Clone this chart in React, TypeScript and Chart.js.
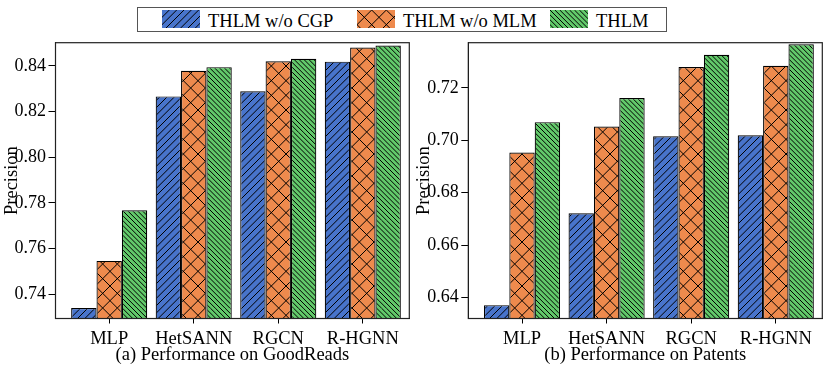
import React, { useEffect, useRef } from 'react';
import { Chart, registerables } from 'chart.js';

Chart.register(...registerables);

// ---------- data ----------
const categories = ['MLP', 'HetSANN', 'RGCN', 'R-HGNN'];
const seriesNames = ['THLM w/o CGP', 'THLM w/o MLM', 'THLM'];

const goodreadsNoCGP = [0.734, 0.8266, 0.8288, 0.8418];
const goodreadsNoMLM = [0.7546, 0.8378, 0.842, 0.848];
const goodreadsTHLM = [0.7768, 0.8394, 0.8431, 0.8489];

const patentsNoCGP = [0.6371, 0.6721, 0.7015, 0.7019];
const patentsNoMLM = [0.6953, 0.7052, 0.7279, 0.7284];
const patentsTHLM = [0.7069, 0.7161, 0.7326, 0.7366];

const goodreadsTicks = [0.74, 0.76, 0.78, 0.8, 0.82, 0.84];
const patentsTicks = [0.64, 0.66, 0.68, 0.7, 0.72];
const goodreadsRange = [0.7294, 0.8501];
const patentsRange = [0.632, 0.7372];

const panelTitles = ['(a) Performance on GoodReads', '(b) Performance on Patents'];
const yTitle = 'Precision';

// ---------- styles ----------
const FONT = '"Liberation Serif", "Times New Roman", Times, serif';
const seriesColors = ['#4874CB', '#EE8A4D', '#62C96A'];
const seriesHatch = ['/', 'x', '\\'];

function makeHatch(color: string, kind: string): CanvasPattern {
  const s = 44;
  const c = document.createElement('canvas');
  c.width = s;
  c.height = s;
  const g = c.getContext('2d')!;
  g.fillStyle = color;
  g.fillRect(0, 0, s, s);
  g.strokeStyle = '#000';
  g.lineWidth = 1;
  const n = kind === 'x' ? 3 : kind === '/' ? 6 : 9;
  const step = s / n;
  g.beginPath();
  for (let i = -n; i <= n; i++) {
    const o = i * step;
    if (kind === '/' || kind === 'x') {
      g.moveTo(o, s);
      g.lineTo(o + s, 0);
    }
    if (kind === '\\' || kind === 'x') {
      g.moveTo(o, 0);
      g.lineTo(o + s, s);
    }
  }
  g.stroke();
  return g.createPattern(c, 'repeat')!;
}

const framePlugin = {
  id: 'frame',
  afterDraw(chart: any) {
    const { ctx, chartArea: a } = chart;
    ctx.save();
    ctx.strokeStyle = '#222';
    ctx.lineWidth = 1.2;
    ctx.strokeRect(a.left, a.top, a.right - a.left, a.bottom - a.top);
    ctx.restore();
  },
};

type PanelProps = {
  left: number;
  width: number;
  yAxisWidth: number;
  padRight: number;
  series: number[][];
  yTicks: number[];
  yRange: number[];
  title: string;
};

function Panel({ left, width, yAxisWidth, padRight, series, yTicks, yRange, title }: PanelProps) {
  const ref = useRef<HTMLCanvasElement>(null);
  useEffect(() => {
    const font = { family: FONT, size: 18.5 };
    const chart = new Chart(ref.current!, {
      type: 'bar',
      data: {
        datasets: series.map((vals, k) => ({
          label: seriesNames[k],
          data: vals.map((v, i) => ({ x: i, y: v })),
          backgroundColor: makeHatch(seriesColors[k], seriesHatch[k]),
          borderColor: '#000',
          borderWidth: 1.2,
          categoryPercentage: 0.9,
          barPercentage: 1.0,
        })),
      },
      options: {
        responsive: false,
        animation: false,
        devicePixelRatio: 1,
        layout: { padding: { left: 0, right: padRight, top: 42.7, bottom: 0 } },
        plugins: { legend: { display: false }, tooltip: { enabled: false } },
        scales: {
          x: {
            type: 'linear',
            offset: false,
            min: -0.635,
            max: 3.55,
            afterBuildTicks: (s: any) => {
              s.ticks = categories.map((_, i) => ({ value: i }));
            },
            afterFit: (s: any) => {
              s.height = 50.5;
            },
            ticks: {
              callback: (v: any) => categories[Math.round(Number(v))] ?? '',
              font,
              color: '#000',
              padding: 4.5,
              autoSkip: false,
              maxRotation: 0,
            },
            grid: { offset: false, drawOnChartArea: false, tickLength: 5, color: '#000', lineWidth: 1 },
            border: { color: '#000', width: 1 },
            title: { display: true, text: title, font, color: '#000', padding: { top: 3, bottom: 3 } },
          },
          y: {
            type: 'linear',
            min: yRange[0],
            max: yRange[1],
            afterBuildTicks: (s: any) => {
              s.ticks = yTicks.map((v) => ({ value: v }));
            },
            afterFit: (s: any) => {
              s.width = yAxisWidth;
            },
            ticks: {
              callback: (v: any) => Number(v).toFixed(2),
              font: { family: FONT, size: 18 },
              color: '#000',
              padding: 2.5,
            },
            grid: { drawOnChartArea: false, tickLength: 7, color: '#000', lineWidth: 1 },
            border: { color: '#000', width: 1 },
            title: {
              display: true,
              text: yTitle,
              font: { family: FONT, size: 18.5, lineHeight: 1 },
              color: '#000',
              padding: { top: 3, bottom: 0 },
            },
          },
        },
      },
      plugins: [framePlugin],
    } as any);
    return () => chart.destroy();
  }, []);
  return (
    <canvas
      ref={ref}
      width={width}
      height={369}
      style={{ position: 'absolute', left, top: 0, width, height: 369 }}
    />
  );
}

function Swatch({ left, k }: { left: number; k: number }) {
  const ref = useRef<HTMLCanvasElement>(null);
  useEffect(() => {
    const g = ref.current!.getContext('2d')!;
    g.fillStyle = makeHatch(seriesColors[k], seriesHatch[k]);
    g.fillRect(0, 0, 38, 18);
  }, []);
  return (
    <canvas
      ref={ref}
      width={38}
      height={18}
      style={{ position: 'absolute', left, top: 10, width: 38, height: 18 }}
    />
  );
}

const swatchLefts = [162, 357, 550];
const textLefts = [208, 403, 596];

export default function App() {
  return (
    <div style={{ position: 'absolute', left: 0, top: 0, width: 830, height: 369, background: '#fff', overflow: 'hidden' }}>
      <Panel
        left={0}
        width={412}
        yAxisWidth={55.5}
        padRight={2.7}
        series={[goodreadsNoCGP, goodreadsNoMLM, goodreadsTHLM]}
        yTicks={goodreadsTicks}
        yRange={goodreadsRange}
        title={panelTitles[0]}
      />
      <Panel
        left={412}
        width={418}
        yAxisWidth={56.3}
        padRight={7.7}
        series={[patentsNoCGP, patentsNoMLM, patentsTHLM]}
        yTicks={patentsTicks}
        yRange={patentsRange}
        title={panelTitles[1]}
      />
      <div
        style={{
          position: 'absolute',
          left: 137,
          top: 7,
          width: 530,
          height: 25,
          boxSizing: 'border-box',
          border: '1.3px solid #555',
          background: '#fff',
        }}
      />
      {seriesNames.map((name, k) => (
        <React.Fragment key={name}>
          <Swatch left={swatchLefts[k]} k={k} />
          <span
            style={{
              position: 'absolute',
              left: textLefts[k],
              top: 12,
              fontFamily: FONT,
              fontSize: 18.5,
              lineHeight: '18.5px',
              color: '#000',
              whiteSpace: 'nowrap',
            }}
          >
            {name}
          </span>
        </React.Fragment>
      ))}
    </div>
  );
}
